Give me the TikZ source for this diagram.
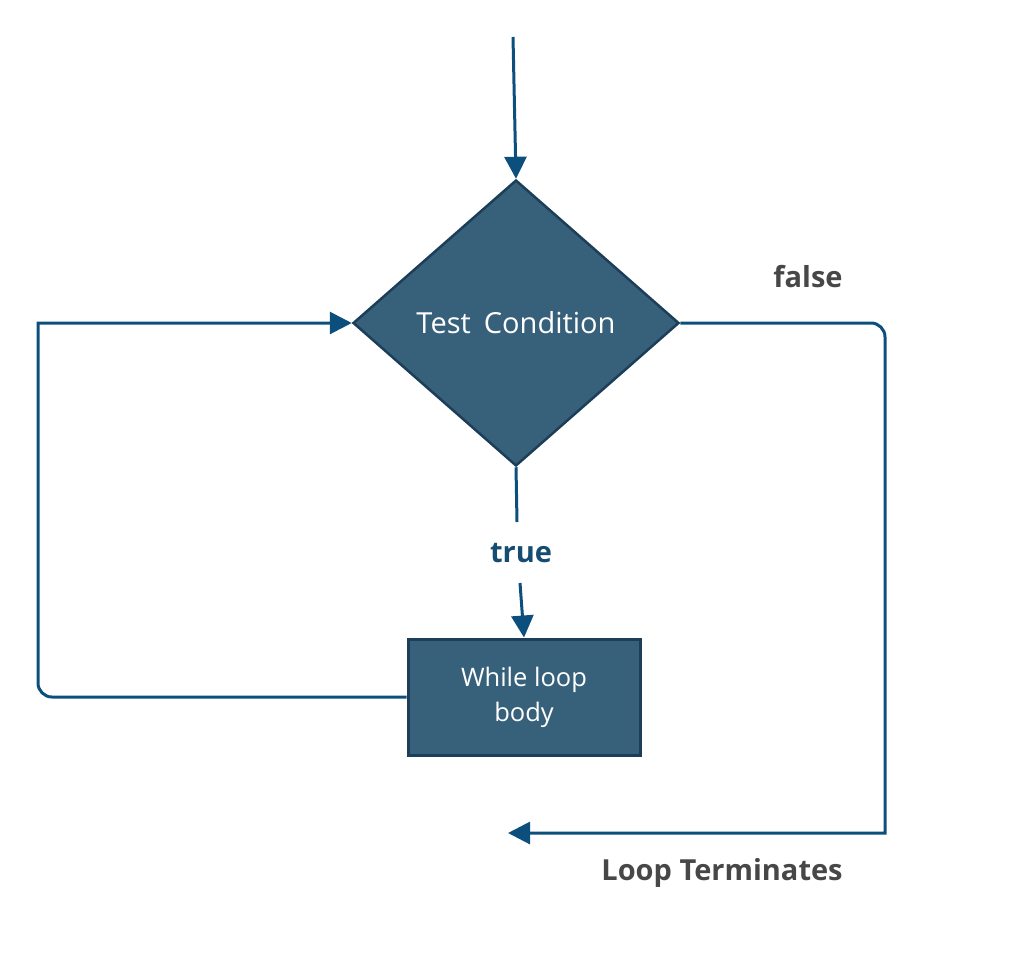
\documentclass[tikz,border=0pt]{standalone}
\usepackage{fontspec}
\setmainfont{Open Sans}
\usetikzlibrary{shapes.geometric,arrows.meta}
\definecolor{boxfill}{HTML}{37617A}
\definecolor{boxdraw}{HTML}{1C3E58}
\definecolor{linec}{HTML}{0D4F7C}
\definecolor{greytext}{HTML}{474747}
\definecolor{bluetext}{HTML}{174C72}
\tikzset{
  decision/.style={diamond, draw=boxdraw, fill=boxfill, line width=2.5pt, inner sep=0pt,
    minimum width=326pt, minimum height=286pt, aspect=1.14, text=white, font=\fontsize{29}{34}\selectfont},
  process/.style={rectangle, draw=boxdraw, fill=boxfill, line width=3pt, minimum width=232pt,
    minimum height=116pt, text=white, align=center, font=\fontsize{25.5}{35}\selectfont},
  conn/.style={draw=linec, line width=3pt},
  tip/.style={-{Triangle[length=22pt,width=22pt]}},
  lbl/.style={font=\fontsize{29}{34}\selectfont\bfseries}
}
\begin{document}
\begin{tikzpicture}[x=1pt,y=-1pt]
\useasboundingbox (0,0) rectangle (1024,966);
\node[decision] (d) at (516,323) {Test\hspace{0.45em}Condition};
\node[process] (b) at (524,697) {While loop\\body};
\coordinate (start) at (513,37);
\coordinate (tt) at (517,522);
\coordinate (tb) at (520,583);
\coordinate (endp) at (508,833);
\node[lbl, text=bluetext] (true) at (521,553) {true};
\node[lbl, text=greytext] (false) at (808,277) {false};
\node[lbl, text=greytext] (term) at (722,873) {Loop Terminates};
\draw[conn, tip] (start) -- (d.north);
\draw[conn] (d.south) -- (tt);
\draw[conn, tip] (tb) -- (b.north);
\draw[conn, tip] (b.west) [rounded corners=14pt] -- (38,697) [sharp corners] -- (38,323) -- (d.west);
\draw[conn, tip] (d.east) [rounded corners=14pt] -- (885,323) [sharp corners] -- (885,833) -- (endp);
\end{tikzpicture}
\end{document}
